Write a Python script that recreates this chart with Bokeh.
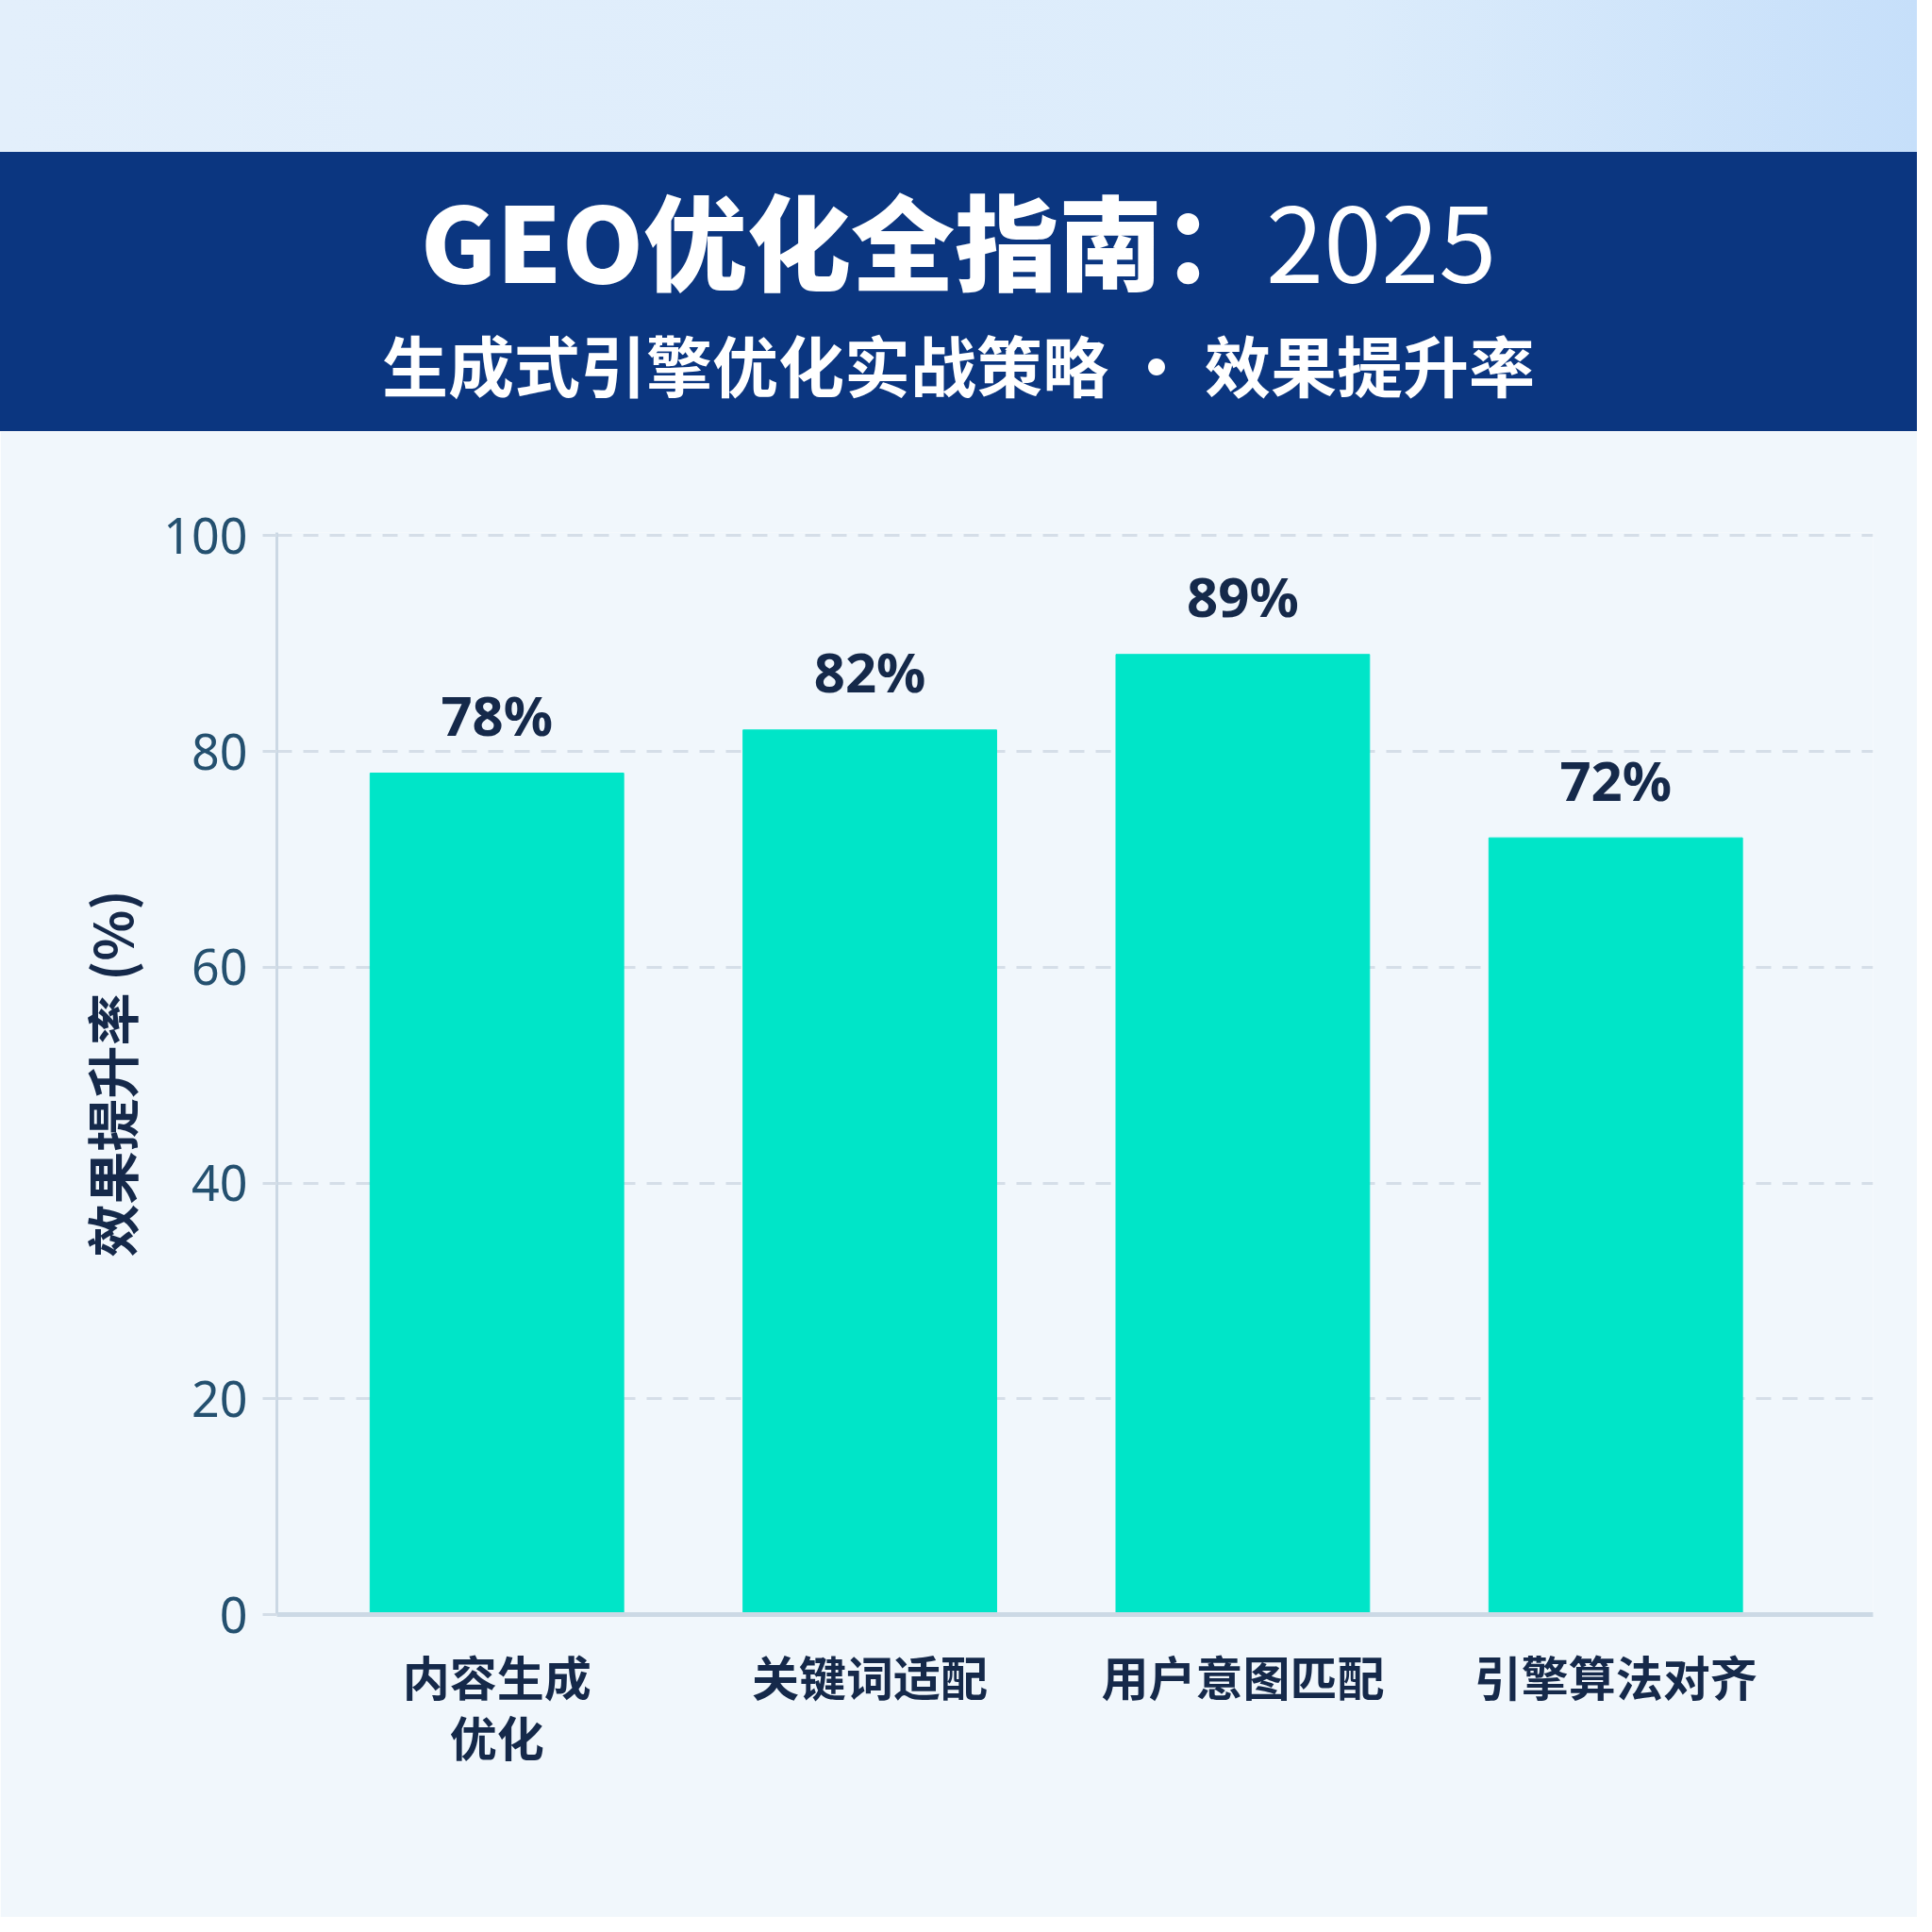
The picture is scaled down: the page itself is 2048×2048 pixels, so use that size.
from bokeh.plotting import figure
from bokeh.models import Div, Range1d, FixedTicker, ColumnDataSource
from bokeh.layouts import column
from bokeh.core.properties import value
from bokeh.embed import file_html
from bokeh.resources import INLINE

# data
categories = ["内容生成\n优化", "关键词适配", "用户意图匹配", "引擎算法对齐"]
uplift = [78, 82, 89, 72]
y_ticks = [0, 20, 40, 60, 80, 100]

title_main = "GEO优化全指南："
title_year = "2025"
subtitle = "生成式引擎优化实战策略 · 效果提升率"

W = 2032
FONT = "Noto Sans CJK SC"

header = Div(
    text=(
        f'<div style="width:{W}px;height:457px;position:relative;font-family:\'{FONT}\';'
        'background:linear-gradient(90deg,#e3effb 0%,#dcecfb 70%,#c6dffa 100%);">'
        f'<div style="position:absolute;left:0;top:161px;width:{W}px;height:296px;background:#0b3680;'
        'text-align:center;color:#ffffff;">'
        '<div style="position:absolute;left:0;right:0;top:31px;font-size:110px;line-height:120px;">'
        f'<span style="font-weight:900;">{title_main}</span>'
        f'<span style="font-weight:400;">{title_year}</span></div>'
        '<div style="position:absolute;left:0;right:0;top:185px;font-size:70px;font-weight:700;line-height:80px;">'
        f'<span>{subtitle}</span></div>'
        '</div></div>'
    ),
    width=W, height=457, margin=(0, 0, 0, 0),
)

xs = list(range(len(categories)))
source = ColumnDataSource(dict(x=xs, top=uplift, label=[f"{v}%" for v in uplift]))

p = figure(width=W, height=1575, output_backend="svg", toolbar_location=None,
           x_range=Range1d(-0.59, len(categories) - 1 + 0.69), y_range=Range1d(0, 100.3),
           min_border_left=293, min_border_right=47, min_border_top=107, min_border_bottom=321,
           background_fill_color="#f1f7fc", border_fill_color="#f1f7fc", outline_line_color=None)

p.vbar(x="x", top="top", width=0.68, source=source, color="#00e5c8")
p.text(x="x", y="top", text="label", source=source, text_align="center",
       text_baseline="alphabetic", y_offset=-62, text_font=value("Noto Sans"),
       text_font_size="58px", text_font_style="bold", text_color="#15294a")

# y axis
p.yaxis.ticker = FixedTicker(ticks=y_ticks)
p.yaxis.axis_label = "效果提升率 (%)"
p.yaxis.axis_label_text_font = FONT
p.yaxis.axis_label_text_font_style = "bold"
p.yaxis.axis_label_text_font_size = "56px"
p.yaxis.axis_label_text_color = "#15294a"
p.yaxis.axis_label_standoff = 13
p.yaxis.major_label_text_font = "Noto Sans"
p.yaxis.major_label_text_font_size = "52px"
p.yaxis.major_label_text_color = "#24506f"
p.yaxis.major_label_standoff = 16
p.yaxis.axis_line_color = "#cbd8e4"
p.yaxis.axis_line_width = 3
p.yaxis.major_tick_line_color = "#d3dde7"
p.yaxis.major_tick_line_width = 3
p.yaxis.major_tick_out = 15
p.yaxis.major_tick_in = 0
p.yaxis.minor_tick_line_color = None

# x axis
p.xaxis.ticker = FixedTicker(ticks=xs)
p.xaxis.major_label_overrides = {i: c for i, c in zip(xs, categories)}
p.xaxis.major_label_text_font = FONT
p.xaxis.major_label_text_font_style = "bold"
p.xaxis.major_label_text_font_size = "50px"
p.xaxis.major_label_text_line_height = 0.9
p.xaxis.major_label_text_color = "#15294a"
p.xaxis.major_label_standoff = 22
p.xaxis.axis_line_color = "#ccd9e5"
p.xaxis.axis_line_width = 5
p.xaxis.major_tick_line_color = None
p.xaxis.minor_tick_line_color = None

p.xgrid.grid_line_color = None
p.ygrid.grid_line_color = "#d5dee8"
p.ygrid.grid_line_width = 3
p.ygrid.grid_line_dash = "16 12"

layout = column(header, p, spacing=0)
open("out.html", "w").write(file_html(layout, INLINE))
